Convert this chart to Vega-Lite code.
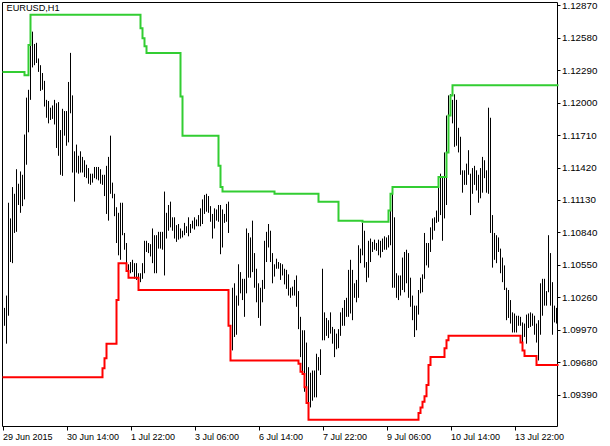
{
  "$schema": "https://vega.github.io/schema/vega-lite/v6.json",
  "width": 555,
  "height": 424,
  "autosize": {"type": "none"},
  "padding": {"left": 2, "top": 2, "right": 53, "bottom": 20},
  "background": "white",
  "title": {
    "text": "EURUSD,H1",
    "anchor": "start",
    "frame": "group",
    "offset": -13,
    "dx": 4.5,
    "font": "Liberation Sans",
    "fontSize": 9.2,
    "fontWeight": "normal",
    "color": "black"
  },
  "config": {
    "view": {"stroke": "black", "strokeWidth": 1}
  },
  "datasets": {
    "bars": [
      {"i":1,"v":1.10165,"v2":1.10005},{"i":2,"v":1.10275,"v2":1.09845},{"i":3,"v":1.11105,"v2":1.10095},{"i":4,"v":1.10965,"v2":1.10575},
      {"i":5,"v":1.11245,"v2":1.10565},{"i":6,"v":1.11185,"v2":1.10835},{"i":7,"v":1.11405,"v2":1.10845},{"i":8,"v":1.11275,"v2":1.11085},
      {"i":9,"v":1.11385,"v2":1.11015},{"i":10,"v":1.11355,"v2":1.11075},{"i":11,"v":1.11715,"v2":1.11135},{"i":12,"v":1.12045,"v2":1.11445},
      {"i":13,"v":1.12115,"v2":1.11735},{"i":14,"v":1.12515,"v2":1.12025},{"i":15,"v":1.12635,"v2":1.12315},{"i":16,"v":1.12525,"v2":1.12335},
      {"i":17,"v":1.12535,"v2":1.12355},{"i":18,"v":1.12395,"v2":1.12275},{"i":19,"v":1.12335,"v2":1.12105},{"i":20,"v":1.12265,"v2":1.12115},
      {"i":21,"v":1.12195,"v2":1.11965},{"i":22,"v":1.12025,"v2":1.11865},{"i":23,"v":1.12015,"v2":1.11815},{"i":24,"v":1.11955,"v2":1.11845},
      {"i":25,"v":1.11975,"v2":1.11855},{"i":26,"v":1.12025,"v2":1.11805},{"i":27,"v":1.11995,"v2":1.11595},{"i":28,"v":1.12005,"v2":1.11525},
      {"i":29,"v":1.11755,"v2":1.11355},{"i":30,"v":1.11945,"v2":1.11345},{"i":31,"v":1.11925,"v2":1.11705},{"i":32,"v":1.11925,"v2":1.11615},
      {"i":33,"v":1.12185,"v2":1.11645},{"i":34,"v":1.12445,"v2":1.11905},{"i":35,"v":1.12065,"v2":1.11375},{"i":36,"v":1.11565,"v2":1.11115},
      {"i":37,"v":1.11625,"v2":1.11375},{"i":38,"v":1.11525,"v2":1.11365},{"i":39,"v":1.11565,"v2":1.11375},{"i":40,"v":1.11515,"v2":1.11375},
      {"i":41,"v":1.11485,"v2":1.11335},{"i":42,"v":1.11445,"v2":1.11325},{"i":43,"v":1.11415,"v2":1.11275},{"i":44,"v":1.11365,"v2":1.11265},
      {"i":45,"v":1.11365,"v2":1.11285},{"i":46,"v":1.11425,"v2":1.11325},{"i":47,"v":1.11425,"v2":1.11315},{"i":48,"v":1.11425,"v2":1.11305},
      {"i":49,"v":1.11405,"v2":1.11275},{"i":50,"v":1.11355,"v2":1.11265},{"i":51,"v":1.11355,"v2":1.11165},{"i":52,"v":1.11435,"v2":1.11005},
      {"i":53,"v":1.11515,"v2":1.10945},{"i":54,"v":1.11705,"v2":1.11185},{"i":55,"v":1.11285,"v2":1.11145},{"i":56,"v":1.11185,"v2":1.10985},
      {"i":57,"v":1.11065,"v2":1.10745},{"i":58,"v":1.11015,"v2":1.10635},{"i":59,"v":1.11105,"v2":1.10595},{"i":60,"v":1.11105,"v2":1.10815},
      {"i":61,"v":1.10835,"v2":1.10685},{"i":62,"v":1.10745,"v2":1.10525},{"i":63,"v":1.10555,"v2":1.10435},{"i":64,"v":1.10575,"v2":1.10475},
      {"i":65,"v":1.10595,"v2":1.10485},{"i":66,"v":1.10565,"v2":1.10425},{"i":67,"v":1.10565,"v2":1.10415},{"i":68,"v":1.10475,"v2":1.10365},
      {"i":69,"v":1.10475,"v2":1.10395},{"i":70,"v":1.10565,"v2":1.10425},{"i":71,"v":1.10765,"v2":1.10475},{"i":72,"v":1.10765,"v2":1.10665},
      {"i":73,"v":1.10745,"v2":1.10655},{"i":74,"v":1.10735,"v2":1.10625},{"i":75,"v":1.10875,"v2":1.10565},{"i":76,"v":1.10815,"v2":1.10475},
      {"i":77,"v":1.10815,"v2":1.10475},{"i":78,"v":1.10845,"v2":1.10695},{"i":79,"v":1.10845,"v2":1.10695},{"i":80,"v":1.10845,"v2":1.10685},
      {"i":81,"v":1.11205,"v2":1.10455},{"i":82,"v":1.11015,"v2":1.10785},{"i":83,"v":1.11085,"v2":1.10855},{"i":84,"v":1.11115,"v2":1.10885},
      {"i":85,"v":1.10975,"v2":1.10855},{"i":86,"v":1.10975,"v2":1.10785},{"i":87,"v":1.10905,"v2":1.10755},{"i":88,"v":1.10915,"v2":1.10775},
      {"i":89,"v":1.10875,"v2":1.10785},{"i":90,"v":1.10855,"v2":1.10795},{"i":91,"v":1.10925,"v2":1.10815},{"i":92,"v":1.10895,"v2":1.10835},
      {"i":93,"v":1.10975,"v2":1.10805},{"i":94,"v":1.10915,"v2":1.10835},{"i":95,"v":1.10945,"v2":1.10875},{"i":96,"v":1.10975,"v2":1.10865},
      {"i":97,"v":1.10955,"v2":1.10895},{"i":98,"v":1.10995,"v2":1.10895},{"i":99,"v":1.11055,"v2":1.10895},{"i":100,"v":1.11135,"v2":1.10915},
      {"i":101,"v":1.11175,"v2":1.11005},{"i":102,"v":1.11185,"v2":1.11025},{"i":103,"v":1.11165,"v2":1.11015},{"i":104,"v":1.11075,"v2":1.10935},
      {"i":105,"v":1.11005,"v2":1.10785},{"i":106,"v":1.11055,"v2":1.10875},{"i":107,"v":1.11045,"v2":1.10945},{"i":108,"v":1.11085,"v2":1.10935},
      {"i":109,"v":1.11085,"v2":1.10645},{"i":110,"v":1.11045,"v2":1.10705},{"i":111,"v":1.11005,"v2":1.10925},{"i":112,"v":1.11095,"v2":1.10935},
      {"i":113,"v":1.11115,"v2":1.10835},
      {"i":115,"v":1.10345,"v2":1.09785},{"i":116,"v":1.10385,"v2":1.09905},{"i":117,"v":1.10275,"v2":1.09925},{"i":118,"v":1.10555,"v2":1.10185},
      {"i":119,"v":1.10485,"v2":1.10295},{"i":120,"v":1.10425,"v2":1.10235},{"i":121,"v":1.10425,"v2":1.10085},{"i":122,"v":1.10875,"v2":1.10295},
      {"i":123,"v":1.10835,"v2":1.10435},{"i":124,"v":1.10795,"v2":1.10435},{"i":125,"v":1.10945,"v2":1.10485},{"i":126,"v":1.10655,"v2":1.10345},
      {"i":127,"v":1.10515,"v2":1.10215},{"i":128,"v":1.10385,"v2":1.10075},{"i":129,"v":1.10345,"v2":1.10005},{"i":130,"v":1.10415,"v2":1.10215},
      {"i":131,"v":1.10765,"v2":1.10335},{"i":132,"v":1.10845,"v2":1.10575},{"i":133,"v":1.10915,"v2":1.10705},{"i":134,"v":1.10855,"v2":1.10575},
      {"i":135,"v":1.10655,"v2":1.10385},{"i":136,"v":1.10555,"v2":1.10445},{"i":137,"v":1.10605,"v2":1.10515},{"i":138,"v":1.10575,"v2":1.10515},
      {"i":139,"v":1.10565,"v2":1.10415},{"i":140,"v":1.10555,"v2":1.10455},{"i":141,"v":1.10515,"v2":1.10375},{"i":142,"v":1.10505,"v2":1.10335},
      {"i":143,"v":1.10465,"v2":1.10275},{"i":144,"v":1.10345,"v2":1.10255},{"i":145,"v":1.10355,"v2":1.10275},{"i":146,"v":1.10415,"v2":1.10275},
      {"i":147,"v":1.10455,"v2":1.10175},{"i":148,"v":1.10315,"v2":1.09975},{"i":149,"v":1.10085,"v2":1.09725},{"i":150,"v":1.09965,"v2":1.09565},
      {"i":151,"v":1.09965,"v2":1.09415},{"i":152,"v":1.09855,"v2":1.09315},{"i":153,"v":1.09635,"v2":1.09245},{"i":154,"v":1.09585,"v2":1.09275},
      {"i":155,"v":1.09605,"v2":1.09335},{"i":156,"v":1.09605,"v2":1.09365},{"i":157,"v":1.09755,"v2":1.09365},{"i":158,"v":1.09725,"v2":1.09605},
      {"i":159,"v":1.09795,"v2":1.09565},{"i":160,"v":1.10515,"v2":1.09875},{"i":161,"v":1.10125,"v2":1.09875},{"i":162,"v":1.10075,"v2":1.09915},
      {"i":163,"v":1.10055,"v2":1.09895},{"i":164,"v":1.10125,"v2":1.09935},{"i":165,"v":1.09995,"v2":1.09845},{"i":166,"v":1.09975,"v2":1.09725},
      {"i":167,"v":1.09935,"v2":1.09795},{"i":168,"v":1.09975,"v2":1.09805},{"i":169,"v":1.10125,"v2":1.09915},{"i":170,"v":1.10165,"v2":1.10005},
      {"i":171,"v":1.10235,"v2":1.10005},{"i":172,"v":1.10255,"v2":1.10085},{"i":173,"v":1.10505,"v2":1.10085},{"i":174,"v":1.10595,"v2":1.10115},
      {"i":175,"v":1.10505,"v2":1.10055},{"i":176,"v":1.10385,"v2":1.10255},{"i":177,"v":1.10415,"v2":1.10215},{"i":178,"v":1.10725,"v2":1.10255},
      {"i":179,"v":1.10695,"v2":1.10565},{"i":180,"v":1.10925,"v2":1.10635},{"i":181,"v":1.10855,"v2":1.10525},{"i":182,"v":1.10575,"v2":1.10395},
      {"i":183,"v":1.10765,"v2":1.10435},{"i":184,"v":1.10785,"v2":1.10575},{"i":185,"v":1.10755,"v2":1.10665},{"i":186,"v":1.10775,"v2":1.10685},
      {"i":187,"v":1.10745,"v2":1.10675},{"i":188,"v":1.10775,"v2":1.10635},{"i":189,"v":1.10765,"v2":1.10615},{"i":190,"v":1.10785,"v2":1.10665},
      {"i":191,"v":1.10805,"v2":1.10685},{"i":192,"v":1.10795,"v2":1.10685},{"i":193,"v":1.10815,"v2":1.10705},{"i":194,"v":1.11035,"v2":1.10725},
      {"i":195,"v":1.11185,"v2":1.10345},{"i":196,"v":1.10975,"v2":1.10345},{"i":197,"v":1.10475,"v2":1.10255},{"i":198,"v":1.10455,"v2":1.10235},
      {"i":199,"v":1.10455,"v2":1.10275},{"i":200,"v":1.10615,"v2":1.10325},{"i":201,"v":1.10665,"v2":1.10305},{"i":202,"v":1.10685,"v2":1.10385},
      {"i":203,"v":1.10655,"v2":1.10255},{"i":204,"v":1.10435,"v2":1.10175},{"i":205,"v":1.10275,"v2":1.10055},{"i":206,"v":1.10185,"v2":1.09905},
      {"i":207,"v":1.10185,"v2":1.09965},{"i":208,"v":1.10325,"v2":1.10105},{"i":209,"v":1.10435,"v2":1.10295},{"i":210,"v":1.10465,"v2":1.10305},
      {"i":211,"v":1.10835,"v2":1.10425},{"i":212,"v":1.10745,"v2":1.10545},{"i":213,"v":1.10745,"v2":1.10525},{"i":214,"v":1.10885,"v2":1.10665},
      {"i":215,"v":1.10965,"v2":1.10775},{"i":216,"v":1.10975,"v2":1.10855},{"i":217,"v":1.11035,"v2":1.10925},{"i":218,"v":1.11285,"v2":1.10935},
      {"i":219,"v":1.11365,"v2":1.10995},{"i":220,"v":1.11335,"v2":1.10765},{"i":221,"v":1.11555,"v2":1.10965},{"i":222,"v":1.11885,"v2":1.11085},
      {"i":223,"v":1.12065,"v2":1.11775},{"i":224,"v":1.12075,"v2":1.11915},{"i":225,"v":1.12025,"v2":1.11815},{"i":226,"v":1.12075,"v2":1.11605},
      {"i":227,"v":1.12025,"v2":1.11615},{"i":228,"v":1.11775,"v2":1.11555},{"i":229,"v":1.11695,"v2":1.11355},{"i":230,"v":1.11395,"v2":1.11195},
      {"i":231,"v":1.11395,"v2":1.11265},{"i":232,"v":1.11455,"v2":1.11265},{"i":233,"v":1.11575,"v2":1.11355},{"i":234,"v":1.11365,"v2":1.10995},
      {"i":235,"v":1.11415,"v2":1.11185},{"i":236,"v":1.11435,"v2":1.11265},{"i":237,"v":1.11395,"v2":1.11215},{"i":238,"v":1.11355,"v2":1.11105},
      {"i":239,"v":1.11415,"v2":1.11145},{"i":240,"v":1.11515,"v2":1.11195},{"i":241,"v":1.11485,"v2":1.11325},{"i":242,"v":1.11395,"v2":1.11195},
      {"i":243,"v":1.11955,"v2":1.11185},{"i":244,"v":1.11865,"v2":1.10835},{"i":245,"v":1.10995,"v2":1.10525},{"i":246,"v":1.10835,"v2":1.10595},
      {"i":247,"v":1.10815,"v2":1.10565},{"i":248,"v":1.10795,"v2":1.10665},{"i":249,"v":1.10695,"v2":1.10475},{"i":250,"v":1.10615,"v2":1.10395},
      {"i":251,"v":1.10545,"v2":1.10325},{"i":252,"v":1.10345,"v2":1.10055},{"i":253,"v":1.10325,"v2":1.10075},{"i":254,"v":1.10235,"v2":1.10025},
      {"i":255,"v":1.10125,"v2":1.09945},{"i":256,"v":1.10115,"v2":1.09945},{"i":257,"v":1.10095,"v2":1.09945},{"i":258,"v":1.10095,"v2":1.10005},
      {"i":259,"v":1.10085,"v2":1.10005},{"i":260,"v":1.10035,"v2":1.09845},{"i":261,"v":1.10025,"v2":1.09905},{"i":262,"v":1.10105,"v2":1.09845},
      {"i":263,"v":1.10115,"v2":1.09985},{"i":264,"v":1.10125,"v2":1.09995},{"i":265,"v":1.10115,"v2":1.10005},{"i":266,"v":1.10095,"v2":1.09925},
      {"i":267,"v":1.10025,"v2":1.09855},{"i":268,"v":1.10055,"v2":1.09695},{"i":269,"v":1.10385,"v2":1.09925},{"i":270,"v":1.10425,"v2":1.10095},
      {"i":271,"v":1.10425,"v2":1.10185},{"i":272,"v":1.10315,"v2":1.10185},{"i":273,"v":1.10815,"v2":1.10305},{"i":274,"v":1.10655,"v2":1.10185},
      {"i":275,"v":1.10395,"v2":1.09925},{"i":276,"v":1.10185,"v2":1.10035},{"i":277,"v":1.10165,"v2":1.10025}
    ],
    "upper": [
      {"i":0,"v":1.12275},{"i":11,"v":1.12245},{"i":13,"v":1.12515},{"i":14,"v":1.12785},
      {"i":69,"v":1.12665},{"i":70,"v":1.12575},{"i":71,"v":1.12505},{"i":72,"v":1.12445},
      {"i":89,"v":1.12055},{"i":90,"v":1.11705},{"i":108,"v":1.11435},{"i":109,"v":1.11245},
      {"i":110,"v":1.11205},{"i":136,"v":1.11185},{"i":158,"v":1.11115},{"i":168,"v":1.10945},
      {"i":180,"v":1.10935},{"i":193,"v":1.11035},{"i":194,"v":1.11185},{"i":195,"v":1.11245},
      {"i":218,"v":1.11335},{"i":222,"v":1.11555},{"i":223,"v":1.11885},{"i":224,"v":1.12065},
      {"i":225,"v":1.12155},{"i":278,"v":1.12155}
    ],
    "lower": [
      {"i":0,"v":1.09545},{"i":50,"v":1.09625},{"i":51,"v":1.09715},{"i":52,"v":1.09845},
      {"i":57,"v":1.10235},{"i":58,"v":1.10565},{"i":62,"v":1.10495},{"i":63,"v":1.10435},
      {"i":68,"v":1.10325},{"i":113,"v":1.10005},{"i":114,"v":1.09695},{"i":148,"v":1.09665},
      {"i":149,"v":1.09595},{"i":150,"v":1.09575},{"i":151,"v":1.09455},{"i":152,"v":1.09315},
      {"i":153,"v":1.09165},{"i":208,"v":1.09225},{"i":209,"v":1.09275},{"i":210,"v":1.09325},
      {"i":211,"v":1.09375},{"i":212,"v":1.09475},{"i":213,"v":1.09655},{"i":214,"v":1.09725},
      {"i":221,"v":1.09805},{"i":222,"v":1.09875},{"i":223,"v":1.09915},{"i":259,"v":1.09855},
      {"i":260,"v":1.09785},{"i":261,"v":1.09735},{"i":267,"v":1.09655},{"i":278,"v":1.09655}
    ]
  },
  "encoding": {
    "x": {
      "field": "i",
      "type": "quantitative",
      "scale": {"domain": [-0.25, 277.25], "nice": false, "zero": false},
      "axis": {
        "title": null,
        "grid": false,
        "domain": false,
        "values": [0, 32, 64, 96, 128, 160, 192, 224, 256],
        "labelExpr": "datum.value == 0 ? '29 Jun 2015' : datum.value == 32 ? '30 Jun 14:00' : datum.value == 64 ? '1 Jul 22:00' : datum.value == 96 ? '3 Jul 06:00' : datum.value == 128 ? '6 Jul 14:00' : datum.value == 160 ? '7 Jul 22:00' : datum.value == 192 ? '9 Jul 06:00' : datum.value == 224 ? '10 Jul 14:00' : '13 Jul 22:00'",
        "tickSize": 4,
        "tickColor": "black",
        "labelAlign": "left",
        "labelBaseline": "top",
        "labelPadding": 2,
        "labelOffset": 0,
        "labelFont": "Liberation Sans",
        "labelFontSize": 9,
        "labelColor": "black",
        "labelFlush": false,
        "labelOverlap": false,
        "labelBound": false
      }
    },
    "y": {
      "field": "v",
      "type": "quantitative",
      "scale": {"domain": [1.09109, 1.129], "nice": false, "zero": false},
      "axis": {
        "orient": "right",
        "title": null,
        "grid": false,
        "domain": false,
        "values": [1.0939, 1.0968, 1.0997, 1.1026, 1.1055, 1.1084, 1.1113, 1.1142, 1.1171, 1.12, 1.1229, 1.1258, 1.1287],
        "format": ".5f",
        "tickSize": 3,
        "tickColor": "black",
        "labelPadding": 1.5,
        "labelFont": "Liberation Sans",
        "labelFontSize": 9.8,
        "labelColor": "black",
        "labelBaseline": "middle",
        "labelFlush": false,
        "labelOverlap": false,
        "labelBound": false
      }
    }
  },
  "layer": [
    {
      "data": {"name": "bars"},
      "mark": {"type": "rule", "color": "black", "strokeWidth": 1},
      "encoding": {"y2": {"field": "v2"}}
    },
    {
      "data": {"name": "upper"},
      "mark": {"type": "line", "color": "#32CD32", "strokeWidth": 2, "interpolate": "step-after"},
      "encoding": {}
    },
    {
      "data": {"name": "lower"},
      "mark": {"type": "line", "color": "#FF0000", "strokeWidth": 2, "interpolate": "step-after"},
      "encoding": {}
    }
  ]
}
